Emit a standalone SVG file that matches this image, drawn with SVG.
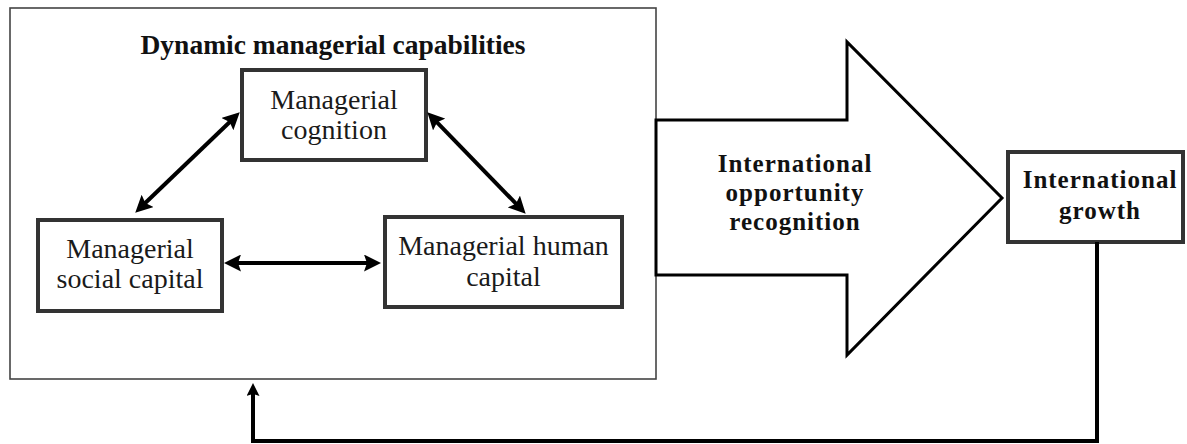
<svg xmlns="http://www.w3.org/2000/svg" width="1187" height="444" viewBox="0 0 1187 444">
<style>
.box{fill:#fff;stroke:#333;stroke-width:4}
.outer{fill:#fff;stroke:#444;stroke-width:1.6}
.reg{font-family:"Liberation Serif","Times New Roman",serif;font-size:28px;fill:#1a1a1a;text-anchor:middle}
.bold{font-family:"Liberation Serif","Times New Roman",serif;font-size:25px;font-weight:bold;letter-spacing:1px;fill:#111;text-anchor:middle}
.title{font-family:"Liberation Serif","Times New Roman",serif;font-size:27.5px;font-weight:bold;fill:#111;text-anchor:middle}
.conn{fill:none;stroke:#000;stroke-width:4}
</style>
<defs>
<marker id="ah" viewBox="0 0 17 17" refX="10" refY="8.5" markerWidth="17" markerHeight="17" markerUnits="userSpaceOnUse" orient="auto-start-reverse">
<path d="M0,0 L17,8.5 L0,17 L3,8.5 Z" fill="#000"/>
</marker>
<marker id="ah2" viewBox="0 0 13 13" refX="7" refY="6.5" markerWidth="13" markerHeight="13" markerUnits="userSpaceOnUse" orient="auto">
<path d="M0,0 L13,6.5 L0,13 L2,6.5 Z" fill="#000"/>
</marker>
</defs>
<g id="dynamic-managerial-capabilities">
<rect class="outer" x="10" y="8" width="646" height="371"/>
<text class="title" x="333" y="54">Dynamic managerial capabilities</text>
</g>
<g id="managerial-cognition">
<rect class="box" x="242" y="70" width="184" height="90"/>
<text class="reg" x="334" y="109">Managerial</text>
<text class="reg" x="334" y="139">cognition</text>
</g>
<g id="managerial-social-capital">
<rect class="box" x="38" y="220" width="184" height="91"/>
<text class="reg" x="130" y="258">Managerial</text>
<text class="reg" x="130" y="288">social capital</text>
</g>
<g id="managerial-human-capital">
<rect class="box" x="385" y="217" width="237" height="90"/>
<text class="reg" x="503.5" y="255">Managerial human</text>
<text class="reg" x="503.5" y="286">capital</text>
</g>
<g id="international-opportunity-recognition">
<polygon points="656,120 847,120 847,42 1002,198 847,355 847,275 656,275" fill="#fff" stroke="#000" stroke-width="3" stroke-linejoin="miter"/>
<text class="bold" x="795" y="172">International</text>
<text class="bold" x="795" y="201">opportunity</text>
<text class="bold" x="795" y="230">recognition</text>
</g>
<g id="international-growth">
<rect class="box" x="1008" y="152" width="175" height="90"/>
<text class="bold" x="1100" y="188">International</text>
<text class="bold" x="1100" y="219">growth</text>
</g>
<g id="connectors">
<line class="conn" x1="234.7" y1="117.2" x2="140.3" y2="207.8" marker-start="url(#ah)" marker-end="url(#ah)"/>
<line class="conn" x1="432.2" y1="117.3" x2="520.8" y2="208.7" marker-start="url(#ah)" marker-end="url(#ah)"/>
<line class="conn" x1="231" y1="263" x2="374" y2="263" marker-start="url(#ah)" marker-end="url(#ah)"/>
<polyline class="conn" points="1097,242 1097,441 253,441 253,389" marker-end="url(#ah2)"/>
</g>
</svg>
